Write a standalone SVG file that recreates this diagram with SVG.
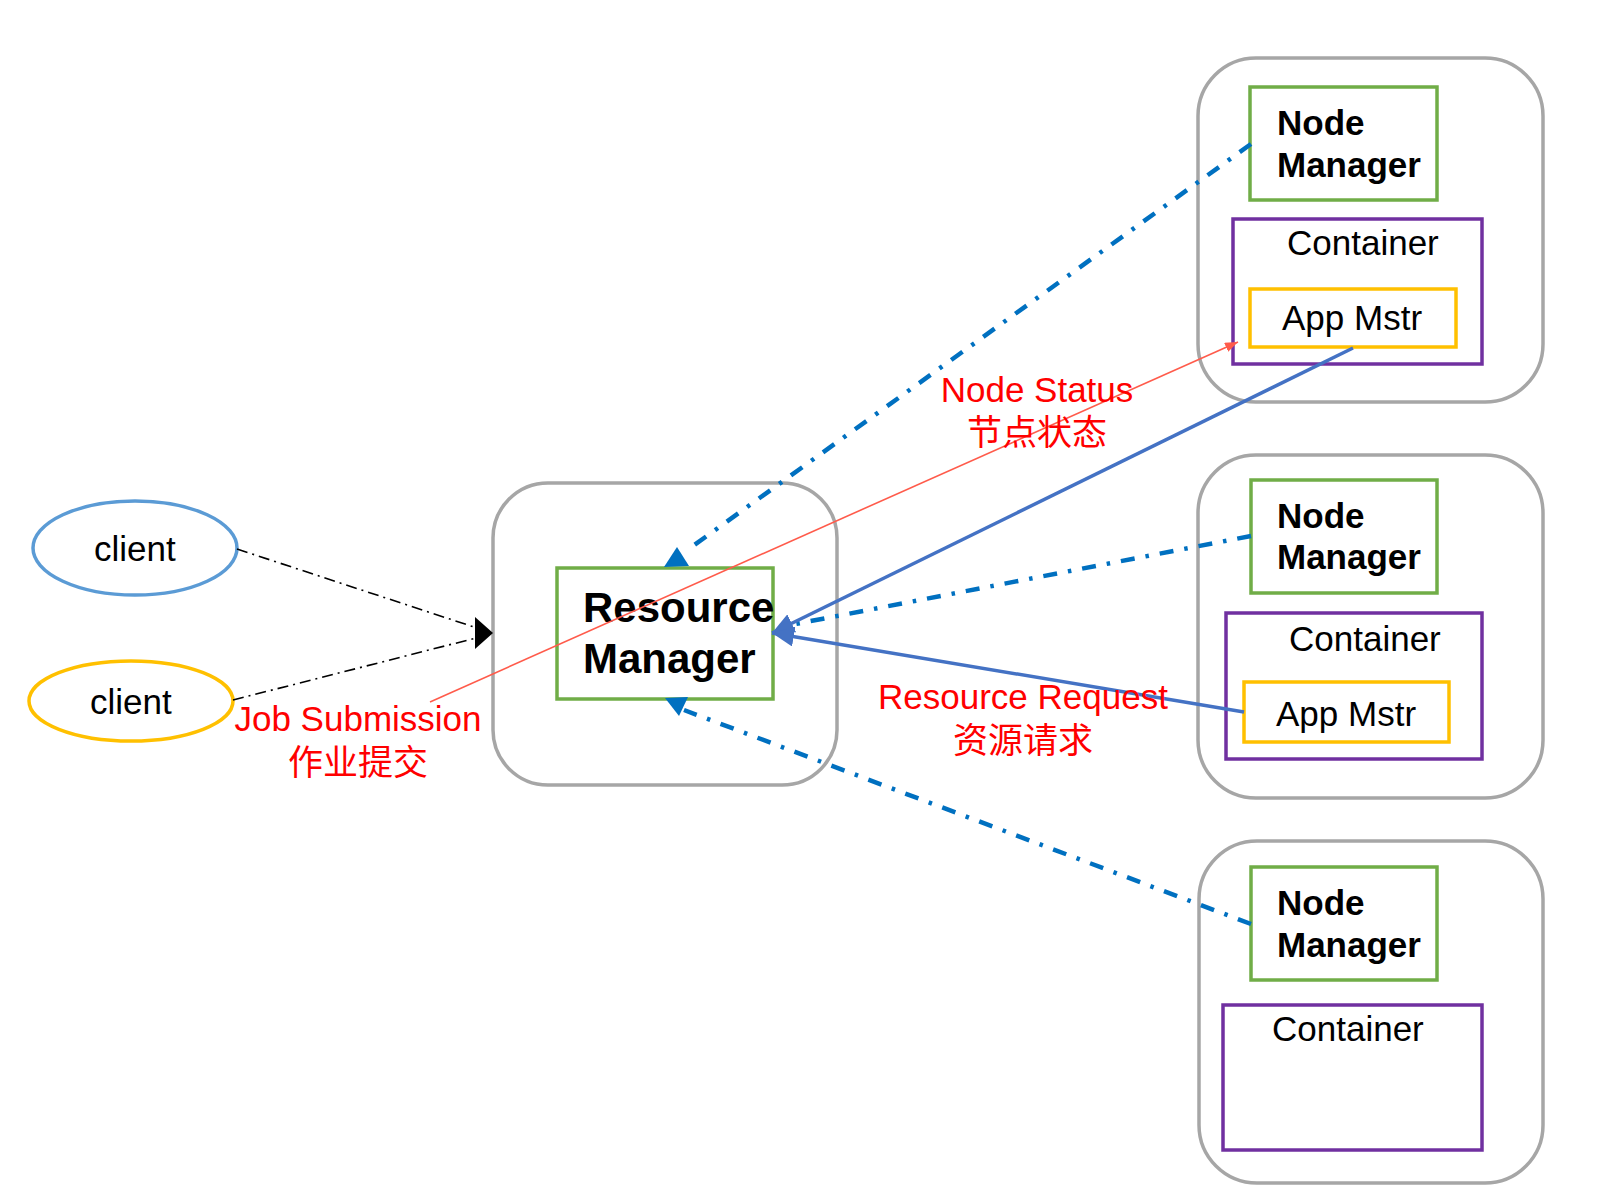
<svg xmlns="http://www.w3.org/2000/svg" width="1597" height="1202" viewBox="0 0 1597 1202">
<style>
.outer{fill:#fff;stroke:#A6A6A6;stroke-width:3.5}
.green{fill:#fff;stroke:#70AD47;stroke-width:3.5}
.purple{fill:#fff;stroke:#7030A0;stroke-width:3.5}
.yellow{fill:#fff;stroke:#FFC000;stroke-width:3.5}
.t{font-family:"Liberation Sans",Arial,sans-serif;font-size:35px;fill:#000}
.b{font-family:"Liberation Sans",Arial,sans-serif;font-size:35px;font-weight:bold;fill:#000}
.rm{font-family:"Liberation Sans",Arial,sans-serif;font-size:42px;font-weight:bold;fill:#000}
.lbl{font-family:"Liberation Sans","Noto Sans CJK SC",Arial,sans-serif;font-size:35px;fill:#FF0000;text-anchor:middle}
.dd{fill:none;stroke:#0070C0;stroke-width:4.5;stroke-dasharray:14 11 3.5 11}
.bd{fill:none;stroke:#000;stroke-width:1.6;stroke-dasharray:11 5 2 5}
.solid{fill:none;stroke:#4472C4;stroke-width:3.5}
</style>
<defs>
<marker id="as" markerUnits="userSpaceOnUse" markerWidth="22" markerHeight="20" refX="22" refY="10" orient="auto" viewBox="0 0 22 20"><path d="M0,0 L22,10 L0,20 z" fill="#4472C4"/></marker>
<marker id="ar" markerUnits="userSpaceOnUse" markerWidth="13" markerHeight="10" refX="13" refY="5" orient="auto" viewBox="0 0 13 10"><path d="M0,0 L13,5 L0,10 z" fill="#FF5B4B"/></marker>
</defs>

<g id="client1">
<ellipse cx="135" cy="548" rx="102" ry="47" fill="#fff" stroke="#5B9BD5" stroke-width="3.5"/>
<text class="t" x="94" y="561">client</text>
</g>
<g id="client2">
<ellipse cx="131" cy="701" rx="102" ry="40" fill="#fff" stroke="#FFC000" stroke-width="3.5"/>
<text class="t" x="90" y="714">client</text>
</g>

<g id="resource-manager">
<rect class="outer" x="493" y="483" width="344" height="302" rx="55" ry="55"/>
<rect class="green" x="557" y="568" width="216" height="131"/>
<text class="rm" x="583" y="622">Resource</text>
<text class="rm" x="583" y="673">Manager</text>
</g>

<g id="node1">
<rect class="outer" x="1198" y="58" width="345" height="344" rx="58" ry="58"/>
<rect class="green" x="1250" y="87" width="187" height="113"/>
<text class="b" x="1277" y="135">Node</text>
<text class="b" x="1277" y="177">Manager</text>
<rect class="purple" x="1233" y="219" width="249" height="145"/>
<text class="t" x="1287" y="255">Container</text>
<rect class="yellow" x="1250" y="289" width="206" height="58"/>
<text class="t" x="1282" y="330">App Mstr</text>
</g>

<g id="node2">
<rect class="outer" x="1198" y="455" width="345" height="343" rx="58" ry="58"/>
<rect class="green" x="1251" y="480" width="186" height="113"/>
<text class="b" x="1277" y="528">Node</text>
<text class="b" x="1277" y="569">Manager</text>
<rect class="purple" x="1226" y="613" width="256" height="146"/>
<text class="t" x="1289" y="651">Container</text>
<rect class="yellow" x="1244" y="682" width="205" height="60"/>
<text class="t" x="1276" y="726">App Mstr</text>
</g>

<g id="node3">
<rect class="outer" x="1199" y="841" width="344" height="342" rx="58" ry="58"/>
<rect class="green" x="1251" y="867" width="186" height="113"/>
<text class="b" x="1277" y="915">Node</text>
<text class="b" x="1277" y="957">Manager</text>
<rect class="purple" x="1223" y="1005" width="259" height="145"/>
<text class="t" x="1272" y="1041">Container</text>
</g>

<g id="connectors">
<line class="bd" x1="237" y1="549" x2="480" y2="629"/>
<line class="bd" x1="233" y1="700" x2="480" y2="637"/>
<polygon points="493,633 475,617 475,649" fill="#000"/>
<line class="dd" x1="1251" y1="144" x2="686" y2="551"/>
<polygon points="677,547 664,567 689,566" fill="#0070C0"/>
<line class="dd" x1="1251" y1="536" x2="780" y2="627"/>
<line class="dd" x1="1251" y1="924" x2="684" y2="710"/>
<polygon points="665,698 688,697 679,716" fill="#0070C0"/>
<line class="solid" x1="1353" y1="348" x2="772" y2="633" marker-end="url(#as)"/>
<line class="solid" x1="1244" y1="712" x2="772" y2="633" marker-end="url(#as)"/>
<line x1="430" y1="702" x2="1238" y2="342" stroke="#FF5B4B" stroke-width="1.6" marker-end="url(#ar)"/>
</g>

<g id="labels">
<text class="lbl" x="358" y="731">Job Submission</text>
<text class="lbl" x="358" y="775">作业提交</text>
<text class="lbl" x="1037" y="402">Node Status</text>
<text class="lbl" x="1037" y="445">节点状态</text>
<text class="lbl" x="1023" y="709">Resource Request</text>
<text class="lbl" x="1023" y="753">资源请求</text>
</g>
</svg>
